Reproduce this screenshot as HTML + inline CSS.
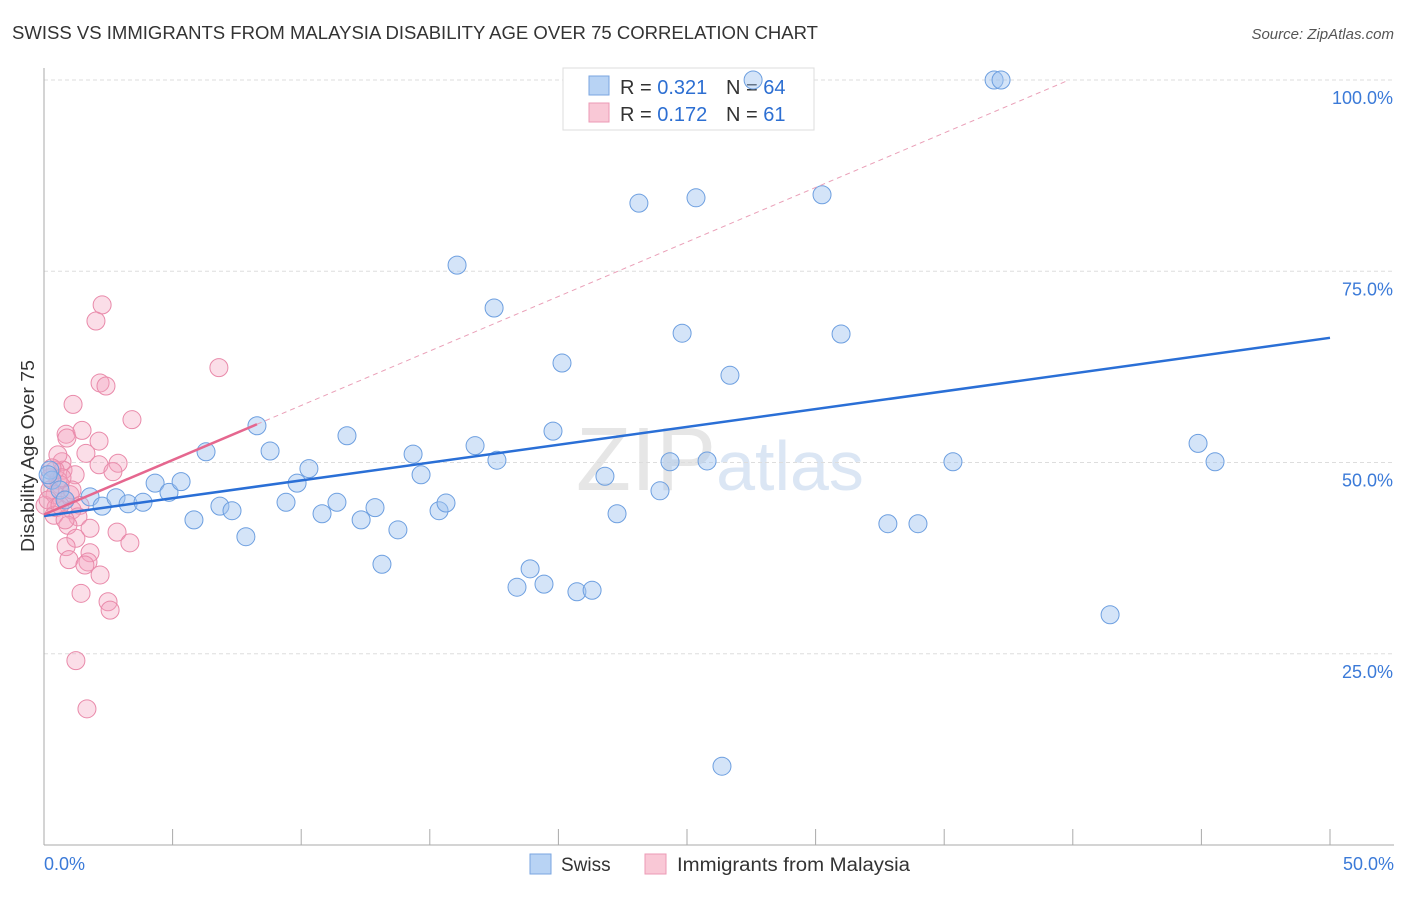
<!DOCTYPE html>
<html><head><meta charset="utf-8"><style>
body{margin:0;background:#fff;font-family:"Liberation Sans",sans-serif}
svg text{font-family:"Liberation Sans",sans-serif}
</style></head><body>
<svg id="chart" width="1406" height="892" viewBox="0 0 1406 892">
<text x="12" y="39" font-size="18" fill="#333" textLength="806" lengthAdjust="spacingAndGlyphs">SWISS VS IMMIGRANTS FROM MALAYSIA DISABILITY AGE OVER 75 CORRELATION CHART</text>
<text x="1394" y="39" font-size="15" fill="#555" font-style="italic" text-anchor="end">Source: ZipAtlas.com</text>
<text x="720" y="490" font-size="90" fill="#e6e6e6" text-anchor="middle" font-family="Liberation Serif">ZIP<tspan fill="#dbe6f4" font-family="Liberation Sans" font-size="70">atlas</tspan></text>
<g id="grid"></g>
<g id="axes"></g>
<g>
<rect x="563" y="68" width="251" height="62" fill="#fff" stroke="#ddd"/>
<rect x="589" y="76" width="20" height="19" fill="#b8d3f4" stroke="#7aa6e0"/>
<rect x="589" y="103" width="20" height="19" fill="#f9c8d6" stroke="#ec9ab5"/>
<text x="620" y="94" font-size="20" fill="#333">R = <tspan fill="#2d6fd2">0.321</tspan></text>
<text x="726" y="94" font-size="20" fill="#333">N = <tspan fill="#2d6fd2">64</tspan></text>
<text x="620" y="121" font-size="20" fill="#333">R = <tspan fill="#2d6fd2">0.172</tspan></text>
<text x="726" y="121" font-size="20" fill="#333">N = <tspan fill="#2d6fd2"> 61</tspan></text>
</g>
<g id="marks"></g>
<text x="0" y="0" transform="translate(34,456) rotate(-90)" font-size="18" fill="#333" text-anchor="middle" textLength="192" lengthAdjust="spacingAndGlyphs">Disability Age Over 75</text>
<g>
<rect x="530" y="854" width="21" height="20" fill="#b8d3f4" stroke="#7aa6e0"/>
<text x="561" y="871" font-size="19" fill="#333">Swiss</text>
<rect x="645" y="854" width="21" height="20" fill="#f9c8d6" stroke="#ec9ab5"/>
<text x="677" y="871" font-size="19" fill="#333" textLength="233" lengthAdjust="spacingAndGlyphs">Immigrants from Malaysia</text>
</g>
</svg>
<script>
const yTicks=[25,50,75,100];
const yTickLabels=["25.0%","50.0%","75.0%","100.0%"];
const xTickLabels=["0.0%","50.0%"];
const swissX=[0.23,0.31,1.79,2.26,2.80,3.27,3.85,4.32,4.86,5.33,5.83,6.30,6.84,7.31,7.85,8.28,8.79,9.41,9.84,10.30,10.81,11.39,11.78,12.33,12.87,13.14,13.76,14.35,14.66,15.36,15.63,16.06,16.76,17.50,17.61,18.39,18.90,19.44,19.79,20.14,20.72,21.31,21.81,22.28,23.13,23.95,24.34,24.81,25.35,25.78,26.36,26.67,27.57,30.25,30.99,32.81,33.98,35.34,36.94,37.21,41.45,44.87,45.53,0.62,0.82,0.16];
const swissY=[49.0,47.7,45.5,44.3,45.4,44.6,44.8,47.3,46.1,47.5,42.5,51.4,44.3,43.7,40.3,54.8,51.5,44.8,47.3,49.2,43.3,44.8,53.5,42.5,44.1,36.7,41.2,51.1,48.4,43.7,44.7,75.8,52.2,70.2,50.3,33.7,36.1,34.1,54.1,63.0,33.1,33.3,48.2,43.3,83.9,46.3,50.1,66.9,84.6,50.2,10.3,61.4,100,85.0,66.8,42.0,42.0,50.1,100,100,30.1,52.5,50.1,46.4,45.1,48.4];
const malX=[2.26,2.02,6.80,2.18,2.41,1.13,3.42,0.86,1.48,0.89,2.14,1.63,0.70,2.88,0.74,2.14,1.21,2.68,0.54,0.23,0.62,0.43,1.01,0.82,0.04,0.47,1.40,1.09,0.39,1.32,1.79,0.93,2.84,3.34,1.24,0.86,1.79,1.71,2.49,2.57,1.44,0.97,2.18,1.24,1.67,0.43,0.23,0.16,0.62,0.82,1.09,0.54,1.59,0.31,0.70];
const malY=[70.6,68.5,62.4,60.4,60.0,57.6,55.6,53.7,54.2,53.2,52.8,51.2,50.1,49.9,49.0,49.7,48.4,48.8,47.7,48.0,47.1,45.8,45.8,45.1,44.4,44.1,44.4,43.8,43.1,42.9,41.4,41.8,40.9,39.5,40.1,39.0,38.2,37.0,31.8,30.7,32.9,37.3,35.3,24.1,17.8,49.0,46.4,45.1,44.4,42.5,46.4,51.0,36.6,49.3,48.0];
const swissTrend=[43.0,66.3];      // y at x=0 and x=50
const malTrend=[43.2,55.0,8.28];   // y at x=0, y at x=end, solid end x
const NS="http://www.w3.org/2000/svg";
const X=v=>44+v*(1330-44)/50;
const Y=v=>845-v*(845-80)/100;
function mk(tag,attrs,parent){const e=document.createElementNS(NS,tag);for(const k in attrs)e.setAttribute(k,attrs[k]);parent.appendChild(e);return e;}
const grid=document.getElementById('grid'),axes=document.getElementById('axes'),marks=document.getElementById('marks');
yTicks.forEach((t,i)=>{
  const l=mk('line',{x1:44,x2:1394,y1:Y(t),y2:Y(t),stroke:'#ddd','stroke-dasharray':'4,3'},grid);
  
  
  const tx=mk('text',{x:1393,y:Y(t)+24,'font-size':18,fill:'#3b7ad8','text-anchor':'end'},axes);
  tx.textContent=yTickLabels[i];
  
  
});
const ya=mk('line',{x1:44,x2:44,y1:68,y2:845,stroke:'#aaa'},axes);


const xa=mk('line',{x1:44,x2:1394,y1:845,y2:845,stroke:'#aaa'},axes);


for(let i=0;i<=10;i++){
  const t=mk('line',{x1:X(i*5),x2:X(i*5),y1:829,y2:845,stroke:'#aaa'},axes);
  
  
}
[[0,'start',44],[50,'end',1394]].forEach((d,i)=>{
  const t=mk('text',{x:d[2],y:870,'font-size':18,fill:'#3b7ad8','text-anchor':d[1]},axes);
  t.textContent=xTickLabels[i];
  
  
});
malX.forEach((x,i)=>{
  const c=mk('circle',{cx:X(x),cy:Y(malY[i]),r:9,fill:'rgba(244,160,190,0.35)',stroke:'#e98aaa','stroke-width':1},marks);
  
  
});
swissX.forEach((x,i)=>{
  const c=mk('circle',{cx:X(x),cy:Y(swissY[i]),r:9,fill:'rgba(160,196,240,0.45)',stroke:'#6d9fe0','stroke-width':1},marks);
  
  
});
const slope=(malTrend[1]-malTrend[0])/malTrend[2];
const xEnd=(100-malTrend[0])/slope;
const d1=mk('line',{x1:X(malTrend[2]),y1:Y(malTrend[1]),x2:X(xEnd),y2:Y(100),stroke:'#eaa0b8','stroke-dasharray':'5,4','stroke-width':1},marks);


const s1=mk('line',{x1:X(0),y1:Y(swissTrend[0]),x2:X(50),y2:Y(swissTrend[1]),stroke:'#2a6fd6','stroke-width':2.5},marks);


const m1=mk('line',{x1:X(0),y1:Y(malTrend[0]),x2:X(malTrend[2]),y2:Y(malTrend[1]),stroke:'#e5678f','stroke-width':2.5},marks);


</script>
</body></html>
